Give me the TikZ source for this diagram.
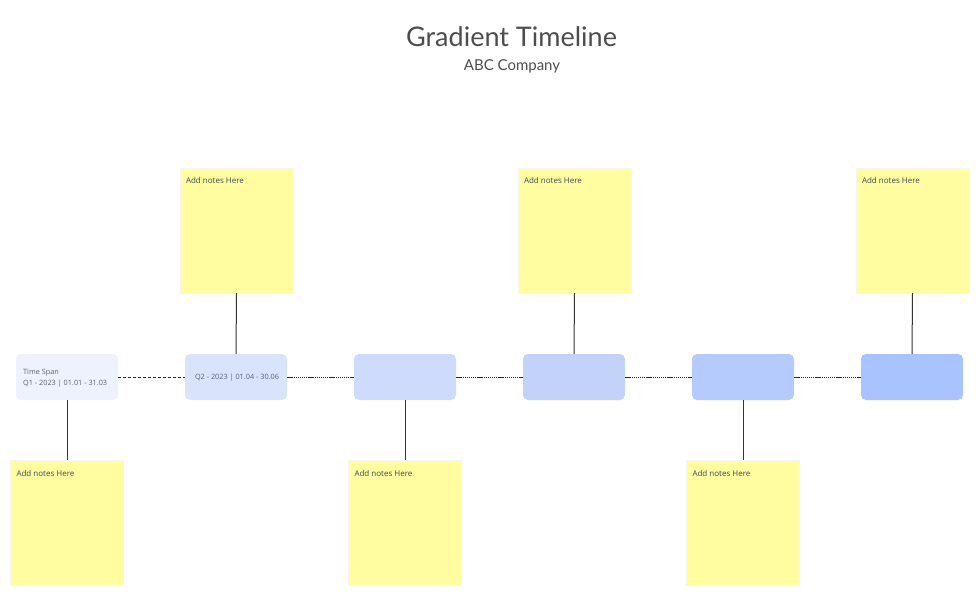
\documentclass[tikz,border=0pt]{standalone}
\usepackage{fontspec}
\setmainfont{Open Sans}
\newfontfamily\latofont{Lato}
\definecolor{titlegrey}{HTML}{4D4D4D}
\definecolor{boxtext}{HTML}{5A6270}
\definecolor{notetext}{HTML}{3D4756}
\definecolor{notefill}{HTML}{FFFD9F}
\definecolor{cA}{HTML}{EEF2FC}
\definecolor{cB}{HTML}{D9E3FC}
\definecolor{cC}{HTML}{CEDBFC}
\definecolor{cD}{HTML}{C2D2F9}
\definecolor{cE}{HTML}{B5CBFD}
\definecolor{cF}{HTML}{A9C3FF}
\begin{document}
\begin{tikzpicture}[x=1pt,y=-1pt,
  tbox/.style={rounded corners=5pt, minimum width=102pt, minimum height=46pt, inner sep=0pt, draw=none},
  note/.style={fill=notefill, minimum width=113pt, minimum height=125pt, inner sep=0pt, draw=black!4, line width=0.4pt},
  notelabel/.style={anchor=north west, inner sep=0pt, font=\fontsize{8pt}{9pt}\selectfont, text=notetext},
  stem/.style={line width=1pt, draw=black!80},
  link/.style={line width=0.8pt, draw=black!85}
]
\useasboundingbox (0,0) rectangle (980,597);
\node[font=\latofont\fontsize{27pt}{30pt}\selectfont, text=titlegrey] (title) at (511.5,37) {Gradient Timeline};
\node[font=\latofont\fontsize{15pt}{17pt}\selectfont, text=titlegrey] (sub) at (512,66.5) {ABC Company};

\node[tbox, fill=cA] (b1) at (67,377) {};
\node[tbox, fill=cB] (b2) at (236,377) {};
\node[tbox, fill=cC] (b3) at (405,377) {};
\node[tbox, fill=cD] (b4) at (574,377) {};
\node[tbox, fill=cE] (b5) at (743,377) {};
\node[tbox, fill=cF] (b6) at (912,377) {};

\node[anchor=west, align=left, inner sep=0pt, font=\fontsize{7.3pt}{10.5pt}\selectfont, text=boxtext] (t1) at (23,378) {Time Span\\Q1 - 2023 | 01.01 - 31.03};
\node[inner sep=0pt, font=\fontsize{7.3pt}{10pt}\selectfont, text=boxtext] (t2) at (237,377.5) {Q2 - 2023 | 01.04 - 30.06};

\draw[link, dash pattern=on 3pt off 2pt] (b1.east) -- (b2.west);
\draw[link, dash pattern=on 1.3pt off 0.8pt] (b2.east) -- (b3.west);
\draw[link, dash pattern=on 1.3pt off 0.8pt] (b3.east) -- (b4.west);
\draw[link, dash pattern=on 1.3pt off 0.8pt] (b4.east) -- (b5.west);
\draw[link, dash pattern=on 1.3pt off 0.8pt] (b5.east) -- (b6.west);

\node[note] (n2) at (236.5,230.5) {};
\node[note] (n4) at (574.5,230.5) {};
\node[note] (n6) at (912.5,230.5) {};
\node[note] (n1) at (67,523) {};
\node[note] (n3) at (405,523) {};
\node[note] (n5) at (743,523) {};

\foreach \n in {n1,n2,n3,n4,n5,n6}{
  \node[notelabel] at ([xshift=6pt,yshift=-9.5pt]\n.north west) {Add notes Here};
}

\draw[stem] (b2.north) -- (n2.south);
\draw[stem] (b4.north) -- (n4.south);
\draw[stem] (b6.north) -- (n6.south);
\draw[stem] (b1.south) -- (n1.north);
\draw[stem] (b3.south) -- (n3.north);
\draw[stem] (b5.south) -- (n5.north);
\end{tikzpicture}
\end{document}
